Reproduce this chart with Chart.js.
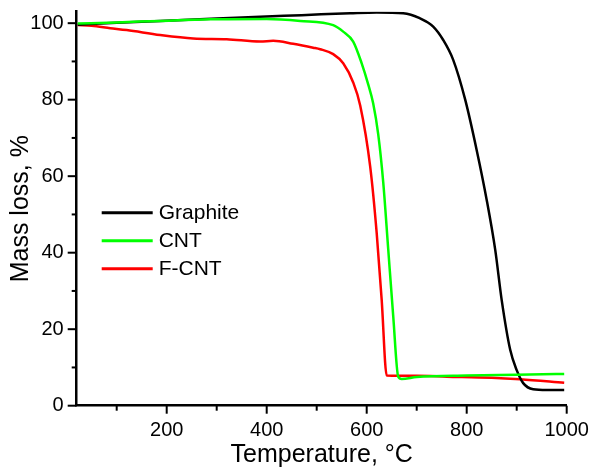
<!DOCTYPE html>
<html>
<head>
<meta charset="utf-8">
<script src="https://cdn.jsdelivr.net/npm/chart.js@4/dist/chart.umd.min.js"></script>
<style>
  html, body { margin: 0; padding: 0; background: #fff; }
  #wrap { width: 593px; height: 468px; }
</style>
</head>
<body>
<div id="wrap"><canvas id="tgaChart"></canvas></div>
<script>
// Data (temperature in °C, mass in %)
const graphiteTemp = [22, 100, 187, 300, 387, 470, 567, 620, 673, 706, 733, 753, 773, 797, 820, 840, 857, 870, 887, 900, 913, 933, 960, 995];
const graphiteMass = [99.6, 100.1, 100.6, 101.2, 101.7, 102.1, 102.6, 102.8, 102.6, 101.3, 99.1, 95.6, 90.4, 80, 66.8, 53.8, 40.8, 27.6, 14.6, 9.3, 5.9, 4.3, 4.1, 4.1];

const cntTemp = [22, 100, 187, 287, 400, 467, 533, 553, 573, 590, 603, 613, 623, 633, 643, 653, 663, 670, 700, 800, 900, 995];
const cntMass = [99.9, 100.2, 100.6, 101.0, 101.1, 100.6, 99.5, 97.8, 95.2, 89.5, 84, 79, 71, 58.5, 41, 23.5, 7.6, 7.0, 7.5, 7.9, 8.1, 8.3];

const fcntTemp = [22, 50, 87, 120, 187, 253, 320, 387, 413, 453, 493, 507, 533, 553, 573, 587, 607, 620, 630, 640, 700, 760, 850, 907, 995];
const fcntMass = [99.5, 99.3, 98.7, 98.2, 96.9, 96.0, 95.8, 95.2, 95.4, 94.6, 93.6, 93.2, 91.9, 89.5, 84.5, 78.5, 62.5, 45.1, 27.6, 7.9, 7.8, 7.6, 7.3, 6.9, 6.0];

const xTicks = [100, 200, 300, 400, 500, 600, 700, 800, 900, 1000];
const yTicks = [0, 10, 20, 30, 40, 50, 60, 70, 80, 90, 100];

const FONT = "'Liberation Sans', Arial, sans-serif";

function toPoints(xs, ys) {
  return xs.map((x, i) => ({ x: x, y: ys[i] }));
}

// no automatic label overhang padding, the layout padding does the job
function noOverhang(s) {
  s.paddingTop = 0; s.paddingBottom = 0; s.paddingLeft = 0; s.paddingRight = 0;
}

// outward tick marks, long on labelled values, short on the others
const axisTicks = {
  id: 'axisTicks',
  afterDraw(chart) {
    const ctx = chart.ctx;
    const xs = chart.scales.x, ys = chart.scales.y;
    const ca = chart.chartArea;
    ctx.save();
    ctx.strokeStyle = '#000';
    ctx.lineWidth = 2;
    xTicks.forEach(v => {
      const px = xs.getPixelForValue(v);
      const len = v % 200 === 0 ? 8 : 5;
      ctx.beginPath();
      ctx.moveTo(px, ca.bottom);
      ctx.lineTo(px, ca.bottom + len);
      ctx.stroke();
    });
    yTicks.forEach(v => {
      const py = ys.getPixelForValue(v);
      const len = v % 20 === 0 ? 9 : 5;
      ctx.beginPath();
      ctx.moveTo(ca.left, py);
      ctx.lineTo(ca.left - len, py);
      ctx.stroke();
    });
    ctx.restore();
  }
};

// legend inside the plot, drawn by hand
const innerLegend = {
  id: 'innerLegend',
  afterDraw(chart) {
    const ctx = chart.ctx;
    const ca = chart.chartArea;
    ctx.save();
    ctx.font = '21px ' + FONT;
    ctx.textBaseline = 'middle';
    ctx.fillStyle = '#000';
    chart.data.datasets.forEach((ds, i) => {
      const y = ca.top + 201 + i * 28;
      ctx.strokeStyle = ds.borderColor;
      ctx.lineWidth = 3;
      ctx.beginPath();
      ctx.moveTo(ca.left + 25, y);
      ctx.lineTo(ca.left + 76, y);
      ctx.stroke();
      ctx.fillText(ds.label, ca.left + 82, y + 1);
    });
    ctx.restore();
  }
};

new Chart(document.getElementById('tgaChart'), {
  type: 'line',
  data: {
    datasets: [
      { label: 'Graphite', data: toPoints(graphiteTemp, graphiteMass), borderColor: '#000000', order: 2 },
      { label: 'CNT', data: toPoints(cntTemp, cntMass), borderColor: '#00ff00', order: 1 },
      { label: 'F-CNT', data: toPoints(fcntTemp, fcntMass), borderColor: '#ff0000', order: 3 }
    ]
  },
  options: {
    responsive: true,
    maintainAspectRatio: false,
    animation: false,
    layout: { padding: { top: 11.7, right: 26.3, left: 0, bottom: 0 } },
    elements: {
      point: { radius: 0 },
      line: { borderWidth: 2.5, cubicInterpolationMode: 'monotone', fill: false }
    },
    plugins: {
      legend: { display: false },
      tooltip: { enabled: false }
    },
    scales: {
      x: {
        type: 'linear',
        min: 20,
        max: 1000,
        afterBuildTicks: s => { s.ticks = xTicks.map(v => ({ value: v })); },
        afterFit: s => { s.height = 62.3; noOverhang(s); },
        grid: { display: false, drawTicks: false },
        border: { display: true, color: '#000', width: 2.5 },
        ticks: {
          color: '#000',
          padding: 13,
          maxRotation: 0,
          autoSkip: false,
          font: { family: FONT, size: 20 },
          callback: v => (v % 200 === 0 ? v : '')
        },
        title: {
          display: true,
          text: 'Temperature, °C',
          color: '#000',
          padding: { top: 0, bottom: 0 },
          font: { family: FONT, size: 25, lineHeight: 1 }
        }
      },
      y: {
        min: 0,
        max: 103,
        afterBuildTicks: s => { s.ticks = yTicks.map(v => ({ value: v })); },
        afterFit: s => { s.width = 76.7; noOverhang(s); },
        grid: { display: false, drawTicks: false },
        border: { display: true, color: '#000', width: 2.5 },
        ticks: {
          color: '#000',
          padding: 13,
          font: { family: FONT, size: 20 },
          callback: v => (v % 20 === 0 ? v : '')
        },
        title: {
          display: true,
          text: 'Mass loss, %',
          color: '#000',
          padding: { top: 8.5, bottom: 0 },
          font: { family: FONT, size: 25, lineHeight: 1 }
        }
      }
    }
  },
  plugins: [axisTicks, innerLegend]
});
</script>
</body>
</html>
